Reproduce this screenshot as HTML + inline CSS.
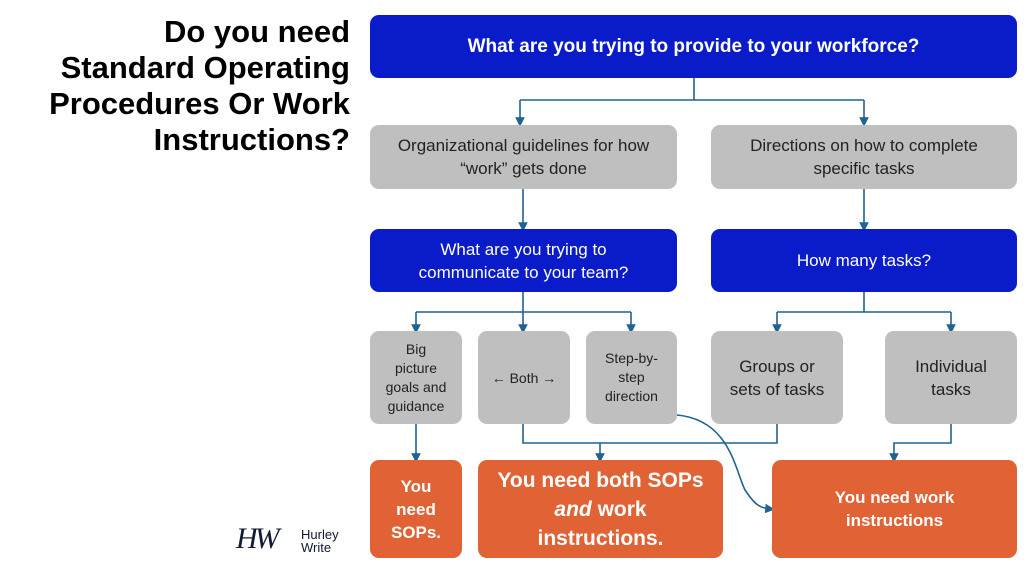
<!DOCTYPE html>
<html><head><style>
body{margin:0;width:1024px;height:570px;background:#fff;position:relative;overflow:hidden;font-family:"Liberation Sans",sans-serif}
.b{position:absolute;display:flex;align-items:center;justify-content:center;text-align:center;border-radius:9px;box-sizing:border-box}
.blue{background:#0a1bc9;color:#fff}
.gray{background:#bfbfbf;color:#222}
.or{background:#e06235;color:#fff;font-weight:bold}
h1{position:absolute;right:674px;top:14px;margin:0;font-size:31px;line-height:36px;text-align:right;font-weight:bold;color:#000}
</style></head><body>
<h1>Do you need<br>Standard Operating<br>Procedures Or Work<br>Instructions?</h1>
<svg width="1024" height="570" style="position:absolute;left:0;top:0">
<defs><marker id="a" markerWidth="6" markerHeight="6" refX="3" refY="3" orient="auto"><path d="M0,0L6,3L0,6z" fill="#1f6391"/></marker></defs>
<g stroke="#1f6391" stroke-width="1.6" fill="none">
<path d="M694 78V100M520 100H864"/>
<path d="M520 100V122" marker-end="url(#a)"/><path d="M864 100V122" marker-end="url(#a)"/>
<path d="M523 189V227" marker-end="url(#a)"/><path d="M864 189V227" marker-end="url(#a)"/>
<path d="M523 292V312M416 312H631M864 292V312M777 312H951"/>
<path d="M416 312V329" marker-end="url(#a)"/><path d="M523 312V329" marker-end="url(#a)"/><path d="M631 312V329" marker-end="url(#a)"/>
<path d="M777 312V329" marker-end="url(#a)"/><path d="M951 312V329" marker-end="url(#a)"/>
<path d="M416 424V458" marker-end="url(#a)"/>
<path d="M523 424V443H777V424"/><path d="M600 443V458" marker-end="url(#a)"/>
<path d="M951 424V443H894V458" marker-end="url(#a)"/>
<path d="M677 415C730 420 735 470 745 490C755 505 760 508 770 509" marker-end="url(#a)"/>
</g></svg>
<div class="b blue" style="left:370px;top:15px;width:647px;height:63px;font-size:19px;font-weight:bold">What are you trying to provide to your workforce?</div>
<div class="b gray" style="left:370px;top:125px;width:307px;height:64px;font-size:17px;line-height:23px"><span>Organizational guidelines for how<br>“work” gets done</span></div>
<div class="b gray" style="left:711px;top:125px;width:306px;height:64px;font-size:17px;line-height:23px"><span>Directions on how to complete<br>specific tasks</span></div>
<div class="b blue" style="left:370px;top:229px;width:307px;height:63px;font-size:17px;line-height:23px"><span>What are you trying to<br>communicate to your team?</span></div>
<div class="b blue" style="left:711px;top:229px;width:306px;height:63px;font-size:17px">How many tasks?</div>
<div class="b gray" style="left:370px;top:331px;width:92px;height:93px;font-size:14px;line-height:19px"><span>Big<br>picture<br>goals and<br>guidance</span></div>
<div class="b gray" style="left:478px;top:331px;width:92px;height:93px;font-size:14px">← Both →</div>
<div class="b gray" style="left:586px;top:331px;width:91px;height:93px;font-size:14px;line-height:19px"><span>Step-by-<br>step<br>direction</span></div>
<div class="b gray" style="left:711px;top:331px;width:132px;height:93px;font-size:17px;line-height:23px"><span>Groups or<br>sets of tasks</span></div>
<div class="b gray" style="left:885px;top:331px;width:132px;height:93px;font-size:17px;line-height:23px"><span>Individual<br>tasks</span></div>
<div class="b or" style="left:370px;top:460px;width:92px;height:98px;font-size:17px;line-height:23px"><span>You<br>need<br>SOPs.</span></div>
<div class="b or" style="left:478px;top:460px;width:245px;height:98px;font-size:21px;line-height:29px"><span>You need both SOPs<br><i>and</i> work<br>instructions.</span></div>
<div class="b or" style="left:772px;top:460px;width:245px;height:98px;font-size:17px;line-height:23px"><span>You need work<br>instructions</span></div>
<div style="position:absolute;left:236px;top:522px;font-size:30px;color:#111a33;font-family:'Liberation Serif',serif;font-style:italic;letter-spacing:-3px">HW</div>
<div style="position:absolute;left:301px;top:528px;font-size:13px;line-height:13px;color:#111a33">Hurley<br>Write</div>
</body></html>
